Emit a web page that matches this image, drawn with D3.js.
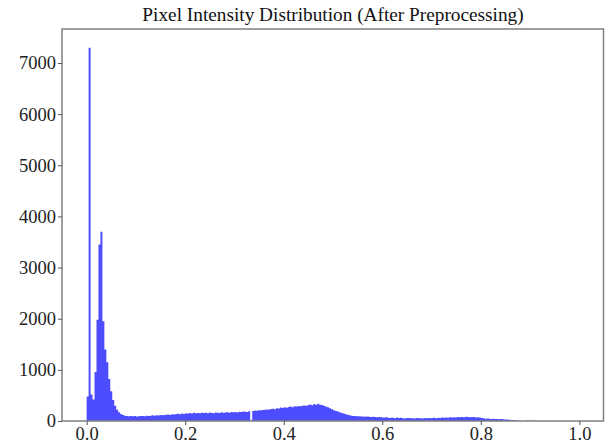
<!DOCTYPE html>
<meta charset="utf-8">
<style>
    body { margin: 0; background: #fff; }
    .title { font: 19.3px "Liberation Serif", "Times New Roman", serif; text-anchor: middle; fill: #111; }
    .tick text { font: 18.5px "Liberation Serif", "Times New Roman", serif; fill: #222; }
</style>
<body>
<script src="https://d3js.org/d3.v7.min.js"></script>
<script>
    // histogram bins: start at 0, each bin 0.004 wide
    let binStart = 0;
    let binWidth = 0.004;
    let counts = [
        480, 7300, 520, 420, 960, 1980, 3450, 3700, 1950, 1400,
        1150, 820, 580, 410, 300, 220, 170, 135, 115, 105,
        100, 95, 98, 92, 96, 90, 94, 100, 97, 95,
        102, 98, 105, 110, 104, 112, 108, 115, 110, 118,
        120, 125, 118, 130, 128, 135, 140, 132, 145, 138,
        150, 145, 155, 148, 160, 152, 158, 150, 162, 155,
        160, 150, 165, 158, 150, 168, 160, 155, 170, 162,
        165, 172, 160, 175, 170, 178, 168, 180, 175, 185,
        182, 178, 190, 10, 195, 205, 200, 212, 208, 215,
        220, 225, 218, 235, 240, 232, 250, 245, 262, 255,
        268, 260, 275, 282, 270, 290, 285, 295, 288, 300,
        305, 298, 315, 322, 310, 330, 318, 335, 320, 312,
        300, 285, 270, 250, 232, 210, 195, 185, 170, 158,
        145, 132, 120, 112, 105, 100, 96, 92, 95, 88,
        90, 85, 88, 82, 80, 84, 78, 75, 80, 72,
        70, 68, 72, 60, 65, 62, 55, 68, 58, 62,
        55, 50, 60, 58, 52, 55, 48, 58, 52, 55,
        50, 58, 55, 60, 52, 58, 62, 55, 65, 60,
        68, 62, 70, 65, 72, 68, 75, 70, 78, 72,
        80, 75, 82, 78, 72, 80, 76, 70, 74, 68,
        60, 52, 45, 48, 42, 40, 44, 38, 40, 35,
        38, 32, 30, 28, 25, 22, 18, 15, 0, 12,
        0, 0, 0, 10, 0, 12, 0, 12, 0, 0
    ];
    let xTicks = [0, 0.2, 0.4, 0.6, 0.8, 1.0];
    let yTicks = [0, 1000, 2000, 3000, 4000, 5000, 6000, 7000];
    let titleText = "Pixel Intensity Distribution (After Preprocessing)";

    let width = 605, height = 448;
    let margin = {left: 62, right: 1, top: 29, bottom: 27};

    let svg = d3.select("body").append("svg")
        .attr("width", width)
        .attr("height", height);

    let bins = counts.map(function(c, i) {
        return {x0: binStart + i * binWidth, x1: binStart + (i + 1) * binWidth, count: c};
    });

    let x = d3.scaleLinear()
        .domain([-0.05, 1.05])
        .range([margin.left, width - margin.right]);

    let maxY = d3.max(counts);
    let y = d3.scaleLinear()
        .domain([0, maxY * 1.05])
        .range([height - margin.bottom, margin.top]);

    // bars drawn as one stepped area so adjacent bins show no seams
    let steps = bins.map(function(d) { return {x: d.x0, count: d.count}; });
    steps.push({x: bins[bins.length - 1].x1, count: 0});

    let area = d3.area()
        .curve(d3.curveStepAfter)
        .x(function(d) { return x(d.x); })
        .y0(y(0))
        .y1(function(d) { return y(d.count); });

    svg.append("path")
        .datum(steps)
        .attr("d", area)
        .attr("fill", "#4d4dff");

    // frame
    svg.append("rect")
        .attr("x", margin.left)
        .attr("y", margin.top)
        .attr("width", width - margin.right - margin.left - 0.5)
        .attr("height", height - margin.bottom - margin.top)
        .attr("fill", "none")
        .attr("stroke", "#808080")
        .attr("stroke-width", 1.5);

    let xAxis = svg.append("g")
        .attr("transform", "translate(0," + (height - margin.bottom) + ")")
        .call(d3.axisBottom(x).tickValues(xTicks).tickFormat(d3.format(".1f")).tickSize(4).tickPadding(2));

    let yAxis = svg.append("g")
        .attr("transform", "translate(" + margin.left + ",0)")
        .call(d3.axisLeft(y).tickValues(yTicks).tickFormat(d3.format("d")).tickSize(4).tickPadding(2));

    [xAxis, yAxis].forEach(function(a) {
        a.select(".domain").remove();
        a.selectAll(".tick line").attr("stroke", "#555").attr("stroke-width", 1);
    });

    svg.append("text")
        .attr("class", "title")
        .attr("x", (margin.left + width - margin.right) / 2)
        .attr("y", 21)
        .text(titleText);
</script>
</body>
